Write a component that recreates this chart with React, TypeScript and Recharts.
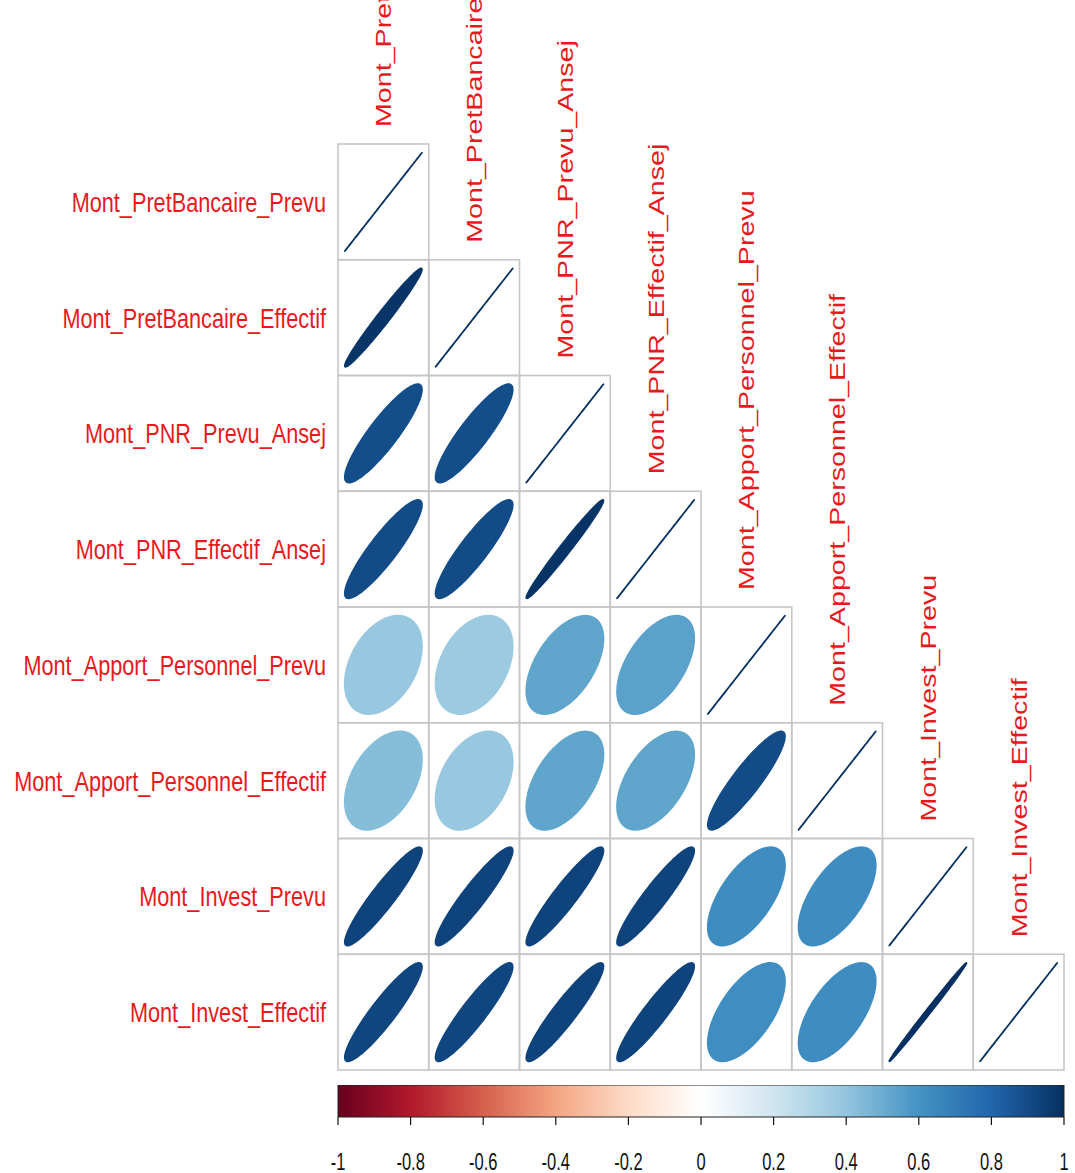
import { ComposedChart, ReferenceArea, Scatter, ScatterChart, XAxis, YAxis } from "recharts"

const variables = [
  "Mont_PretBancaire_Prevu",
  "Mont_PretBancaire_Effectif",
  "Mont_PNR_Prevu_Ansej",
  "Mont_PNR_Effectif_Ansej",
  "Mont_Apport_Personnel_Prevu",
  "Mont_Apport_Personnel_Effectif",
  "Mont_Invest_Prevu",
  "Mont_Invest_Effectif",
]

// lower triangle of the correlation matrix, one row per variable (diagonal included)
const corrLower = [
  [1],
  [0.98, 1],
  [0.89, 0.89, 1],
  [0.9, 0.9, 0.985, 1],
  [0.38, 0.37, 0.53, 0.54, 1],
  [0.43, 0.38, 0.53, 0.53, 0.9, 1],
  [0.93, 0.93, 0.93, 0.93, 0.63, 0.63, 1],
  [0.92, 0.92, 0.93, 0.93, 0.62, 0.63, 0.997, 1],
]

const colorbarTicks = [-1, -0.8, -0.6, -0.4, -0.2, 0, 0.2, 0.4, 0.6, 0.8, 1]

// corrplot's default RdBu ramp, from -1 to 1
const rdbu = [
  "#67001F", "#B2182B", "#D6604D", "#F4A582", "#FDDBC7", "#FFFFFF",
  "#D1E5F0", "#92C5DE", "#4393C3", "#2166AC", "#053061",
]

const W = 1075
const H = 1173
const PLOT_LEFT = 338
const PLOT_TOP = 144
const PLOT_W = 726
const PLOT_H = 926
const N = variables.length
const CELL_W = PLOT_W / N
const CELL_H = PLOT_H / N
const LABEL_RED = "#e8191c"
const FONT = "'Liberation Sans', Arial, sans-serif"

const cells = corrLower.flatMap((row, i) =>
  row.map((r, j) => ({ x: j + 1, y: i + 1, r }))
)
const diagonal = variables.map((name, i) => ({ x: i + 1, y: i + 1, name }))

function hexToRgb(h: string) {
  const n = parseInt(h.slice(1), 16)
  return [(n >> 16) & 255, (n >> 8) & 255, n & 255]
}

function corrColor(r: number) {
  const t = ((r + 1) / 2) * (rdbu.length - 1)
  const i = Math.min(Math.floor(t), rdbu.length - 2)
  const f = t - i
  const a = hexToRgb(rdbu[i])
  const b = hexToRgb(rdbu[i + 1])
  const c = a.map((v, k) => Math.round(v + (b[k] - v) * f))
  return `rgb(${c[0]},${c[1]},${c[2]})`
}

// same parametrisation corrplot uses: x = cos(k + acos(r)/2), y = cos(k - acos(r)/2)
function ellipsePath(cx: number, cy: number, r: number) {
  const d = Math.acos(Math.min(1, r)) / 2
  const pts: string[] = []
  for (let s = 0; s < 100; s++) {
    const k = (s / 99) * Math.PI * 2
    const px = cx + Math.cos(k + d) * 0.425 * CELL_W
    const py = cy - Math.cos(k - d) * 0.425 * CELL_H
    pts.push(`${px.toFixed(2)},${py.toFixed(2)}`)
  }
  return `M${pts.join("L")}Z`
}

function CellShape(props: any) {
  const { cx, cy, payload } = props
  const col = corrColor(payload.r)
  return (
    <g>
      <rect
        x={cx - CELL_W / 2}
        y={cy - CELL_H / 2}
        width={CELL_W}
        height={CELL_H}
        fill="none"
        stroke="#c6c6c6"
        strokeWidth={1.6}
      />
      <path
        d={ellipsePath(cx, cy, payload.r)}
        fill={col}
        stroke={col}
        strokeWidth={1.8}
        strokeLinejoin="round"
      />
    </g>
  )
}

function DiagLabel(props: any) {
  const { cx, cy, payload } = props
  const bottom = cy - CELL_H / 2 - 17
  return (
    <text
      transform={`translate(${cx + 8},${bottom}) rotate(-90) scale(1.32,1)`}
      textAnchor="start"
      fontSize={21.7}
      fontFamily={FONT}
      fill={LABEL_RED}
    >
      {payload.name}
    </text>
  )
}

function RowTick(props: any) {
  const { x, y, payload } = props
  return (
    <text
      transform={`translate(${x},${y}) scale(1,1.28)`}
      y={7.8}
      textAnchor="end"
      fontSize={21.7}
      fontFamily={FONT}
      fill={LABEL_RED}
    >
      {variables[payload.value - 1]}
    </text>
  )
}

function BarTick(props: any) {
  const { x, y, payload } = props
  const v = Math.round(payload.value * 10) / 10
  return (
    <text
      transform={`translate(${x},${y + 43}) scale(1,1.4)`}
      textAnchor="middle"
      fontSize={16.5}
      fontFamily={FONT}
      fill="#111"
    >
      {String(v)}
    </text>
  )
}

export default function App() {
  const barTop = 1085
  return (
    <div style={{ position: "absolute", left: 0, top: 0, width: W, height: H, background: "#fff" }}>
      <div style={{ position: "absolute", left: 0, top: 0 }}>
        <ScatterChart
          width={W}
          height={PLOT_TOP + PLOT_H + 103}
          margin={{ top: PLOT_TOP, right: W - PLOT_LEFT - PLOT_W, bottom: 103, left: 0 }}
        >
          <XAxis type="number" dataKey="x" domain={[0.5, N + 0.5]} hide />
          <YAxis
            type="number"
            dataKey="y"
            domain={[0.5, N + 0.5]}
            reversed
            ticks={variables.map((_, i) => i + 1)}
            interval={0}
            width={PLOT_LEFT}
            tickSize={0}
            tickMargin={12}
            tickLine={false}
            axisLine={false}
            tick={<RowTick />}
          />
          <Scatter data={cells} shape={<CellShape />} isAnimationActive={false} />
          <Scatter data={diagonal} shape={<DiagLabel />} isAnimationActive={false} />
        </ScatterChart>
      </div>
      <div style={{ position: "absolute", left: 0, top: barTop }}>
        <ComposedChart
          width={W}
          height={H - barTop}
          data={colorbarTicks.map((v) => ({ v }))}
          margin={{ top: 0, right: W - PLOT_LEFT - PLOT_W, bottom: 0, left: PLOT_LEFT }}
        >
          <defs>
            <linearGradient id="rdbuGrad" x1="0" y1="0" x2="1" y2="0">
              {rdbu.map((c, i) => (
                <stop key={i} offset={`${(i / (rdbu.length - 1)) * 100}%`} stopColor={c} />
              ))}
            </linearGradient>
          </defs>
          <XAxis
            type="number"
            dataKey="v"
            domain={[-1, 1]}
            ticks={colorbarTicks}
            interval={0}
            height={H - barTop - 32}
            tickSize={8}
            tickMargin={2}
            axisLine={false}
            tickLine={{ stroke: "#111", strokeWidth: 1.2 }}
            tick={<BarTick />}
          />
          <YAxis type="number" domain={[0, 1]} hide />
          <ReferenceArea
            x1={-1}
            x2={1}
            y1={0}
            y2={1}
            fill="url(#rdbuGrad)"
            fillOpacity={1}
            stroke="#222"
            strokeWidth={1}
            ifOverflow="extendDomain"
          />
        </ComposedChart>
      </div>
    </div>
  )
}
